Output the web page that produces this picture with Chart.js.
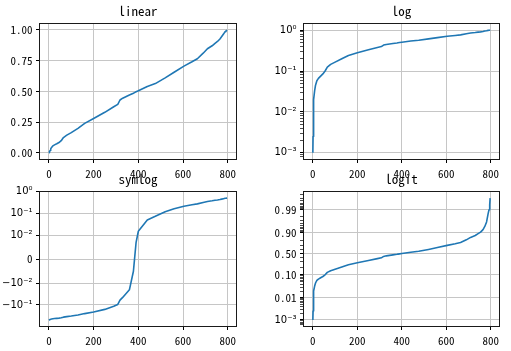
<!DOCTYPE html>
<html><head><meta charset="utf-8">
<script src="https://cdn.jsdelivr.net/npm/chart.js@4.4.1/dist/chart.umd.min.js"></script>
<style>
html,body{margin:0;padding:0;background:#fff;overflow:hidden;width:511px;height:351px;position:relative}
canvas{position:absolute}
</style>
</head><body>
<canvas id="c1"></canvas><canvas id="c2"></canvas><canvas id="c3"></canvas><canvas id="c4"></canvas>
<script>
// ---------- data ----------
const xValues = [0,1,2,3,5,8,12,18,25,35,45,55,65,80,100,130,160,200,250,290,308,318,330,360,378,383,390,400,440,476,520,560,604,640,664,690,709,730,743,754,765,773,781,788,792,795,797];
const yValues = [0.001,0.0025,0.006,0.011,0.02,0.033,0.045,0.058,0.066,0.075,0.085,0.1,0.125,0.145,0.165,0.2,0.24,0.28,0.33,0.375,0.395,0.43,0.445,0.47,0.485,0.49,0.497,0.505,0.54,0.563,0.61,0.655,0.705,0.74,0.765,0.81,0.846,0.87,0.89,0.905,0.925,0.945,0.965,0.985,0.99,0.994,0.997];
const yMean = 0.49;          // symlog panel plots y - mean
const linthresh = 0.01;

const titles = ['linear','log','symlog','logit'];
const xTicks = [0,200,400,600,800];
const linearTicks = [0,0.25,0.5,0.75,1.0];
const linearLabels = ['0.00','0.25','0.50','0.75','1.00'];
const logMajor = [0.001,0.01,0.1,1];
const logLabels = ['10⁻³','10⁻²','10⁻¹','10⁰'];
const logMinor = [0.0008,0.0009,0.002,0.003,0.004,0.005,0.006,0.007,0.008,0.009,0.02,0.03,0.04,0.05,0.06,0.07,0.08,0.09,0.2,0.3,0.4,0.5,0.6,0.7,0.8,0.9];
const symlogTicks = [-0.1,-0.01,0,0.01,0.1,1];
const symlogLabels = ['−10⁻¹','−10⁻²','0','10⁻²','10⁻¹','10⁰'];
const logitMajor = [0.001,0.01,0.1,0.5,0.9,0.99];
const logitLabels = ['10⁻³','0.01','0.10','0.50','0.90','0.99'];
const logitMinor = [0.0006,0.0007,0.0008,0.0009,0.002,0.003,0.004,0.005,0.006,0.007,0.008,0.009,0.02,0.03,0.04,0.05,0.06,0.07,0.08,0.09,0.2,0.3,0.4,0.6,0.7,0.8,0.91,0.92,0.93,0.94,0.95,0.96,0.97,0.98,0.991,0.992,0.993,0.994,0.995,0.996,0.997,0.998];

// ---------- styles ----------
const MONO = '"Noto Sans Mono CJK SC","Liberation Mono",monospace';
const MATH = '"DejaVu Sans",sans-serif';
const GRID = '#c6c6c6';
const LINE = '#1f77b4';

// ---------- custom scales ----------
const SL = 1/(1-1/10);
function symT(v){const a=Math.abs(v);return a<=linthresh? v/linthresh*SL : Math.sign(v)*(SL+Math.log10(a/linthresh));}
function symInv(t){const a=Math.abs(t);return a<=SL? t/SL*linthresh : Math.sign(t)*linthresh*Math.pow(10,a-SL);}
function logitT(p){return Math.log10(p/(1-p));}
function logitInv(t){const e=Math.pow(10,t);return e/(1+e);}

class SymlogScale extends Chart.LinearScale {
  getPixelForValue(v){const a=symT(this.min),b=symT(this.max);return this.getPixelForDecimal((symT(v)-a)/(b-a));}
  getValueForPixel(p){const a=symT(this.min),b=symT(this.max);return symInv(a+this.getDecimalForPixel(p)*(b-a));}
}
SymlogScale.id='symlog'; SymlogScale.defaults={};
class LogitScale extends Chart.LinearScale {
  getPixelForValue(v){const a=logitT(this.min),b=logitT(this.max);return this.getPixelForDecimal((logitT(v)-a)/(b-a));}
  getValueForPixel(p){const a=logitT(this.min),b=logitT(this.max);return logitInv(a+this.getDecimalForPixel(p)*(b-a));}
}
LogitScale.id='logit'; LogitScale.defaults={};
Chart.register(SymlogScale, LogitScale);

// ---------- helpers ----------
function mkTicks(major, labels, minor, fontFor){
  const t = major.map((v,i)=>({value:v,lbl:labels[i],mj:true,f:fontFor(labels[i])}));
  (minor||[]).forEach(v=>t.push({value:v,lbl:'',mj:false,f:fontFor('')}));
  return t.sort((a,b)=>a.value-b.value);
}
const monoFont = {family:MONO,size:11};
const mathFont = {family:MATH,size:10};
const fontPick = l => /[⁰¹²³⁻−]/.test(l) ? mathFont : monoFont;

function limits(vals, tf, inv){
  const t = vals.map(tf); const lo=Math.min(...t), hi=Math.max(...t), m=(hi-lo)*0.05;
  return [inv(lo-m), inv(hi+m)];
}

const frame = {
  id:'frame',
  afterDraw(chart, args, opts){
    const {ctx, chartArea:{left,top,right,bottom}} = chart;
    ctx.save();
    ctx.strokeStyle='#1a1a1a'; ctx.lineWidth=1;
    ctx.strokeRect(Math.round(left)-0.5, Math.round(top)-0.5, Math.round(right-left)+1, Math.round(bottom-top)+1);
    ctx.fillStyle='#000'; ctx.font='13px '+MONO; ctx.textAlign='center'; ctx.textBaseline='alphabetic';
    ctx.fillText(opts.text, (left+right)/2, top-8);
    ctx.restore();
  }
};

const xMax = Math.max(...xValues), xMin = Math.min(...xValues);
const xLim = [xMin-(xMax-xMin)*0.05, xMax+(xMax-xMin)*0.05];

function gridOpts(){
  return {
    color: c => (c.tick && c.tick.mj) ? GRID : 'rgba(0,0,0,0)',
    tickColor: '#000', tickLength: 4, lineWidth: 1,
    tickWidth: c => (c.tick && c.tick.mj) ? 1 : 0.7,
    drawOnChartArea: true, offset: false
  };
}

function makeChart(id, box, area, yType, yLim, yTickArr, points, title){
  const cv = document.getElementById(id);
  cv.width = box.w; cv.height = box.h;
  cv.style.left = box.x+'px'; cv.style.top = box.y+'px';
  const yW = area.l - box.x, xH = box.y + box.h - area.b;
  new Chart(cv, {
    type:'line',
    data:{datasets:[{data:points, borderColor:LINE, borderWidth:1.6, pointRadius:0, tension:0, fill:false, borderJoinStyle:'round'}]},
    options:{
      responsive:false, animation:false, events:[],
      layout:{padding:{left:0, top:area.t-box.y, right:box.x+box.w-area.r, bottom:0}},
      plugins:{legend:{display:false}, tooltip:{enabled:false}, title:{display:false}, frame:{text:title}},
      scales:{
        x:{type:'linear', min:xLim[0], max:xLim[1], bounds:'data', position:'bottom',
           afterBuildTicks:s=>{s.ticks = xTicks.map(v=>({value:v,lbl:String(v),mj:true,f:monoFont}));},
           afterFit:s=>{s.height = xH;},
           ticks:{autoSkip:false, maxRotation:0, minRotation:0, padding:4, color:'#000', font:c=>(c.tick&&c.tick.f)||monoFont, callback:(v,i,t)=>t[i].lbl},
           grid:gridOpts(), border:{display:false}},
        y:{type:yType, min:yLim[0], max:yLim[1], bounds:'data', position:'left',
           afterBuildTicks:s=>{s.ticks = yTickArr.map(t=>Object.assign({},t));},
           afterFit:s=>{s.width = yW;},
           ticks:{autoSkip:false, padding:3.5, color:'#000', font:c=>(c.tick&&c.tick.f)||monoFont, callback:(v,i,t)=>t[i].lbl},
           grid:gridOpts(), border:{display:false}}
      }
    },
    plugins:[frame]
  });
}

const ptsLinear = xValues.map((x,i)=>({x, y:yValues[i]}));
const ptsSym = xValues.map((x,i)=>({x, y:yValues[i]-yMean}));

makeChart('c1', {x:0,y:0,w:250,h:185}, {l:40,t:24,r:236,b:159}, 'linear',
  limits(yValues, v=>v, v=>v), mkTicks(linearTicks, linearLabels, null, fontPick), ptsLinear, titles[0]);
makeChart('c2', {x:255,y:0,w:256,h:185}, {l:304,t:24,r:499,b:159}, 'logarithmic',
  limits(yValues, Math.log10, t=>Math.pow(10,t)), mkTicks(logMajor, logLabels, logMinor, fontPick), ptsLinear, titles[1]);
makeChart('c3', {x:0,y:170,w:250,h:181}, {l:40,t:192,r:236,b:326}, 'symlog',
  limits(yValues.map(v=>v-yMean), symT, symInv), mkTicks(symlogTicks, symlogLabels, null, fontPick), ptsSym, titles[2]);
makeChart('c4', {x:255,y:170,w:256,h:181}, {l:304,t:192,r:499,b:326}, 'logit',
  limits(yValues, logitT, logitInv), mkTicks(logitMajor, logitLabels, logitMinor, fontPick), ptsLinear, titles[3]);
</script>
</body></html>
